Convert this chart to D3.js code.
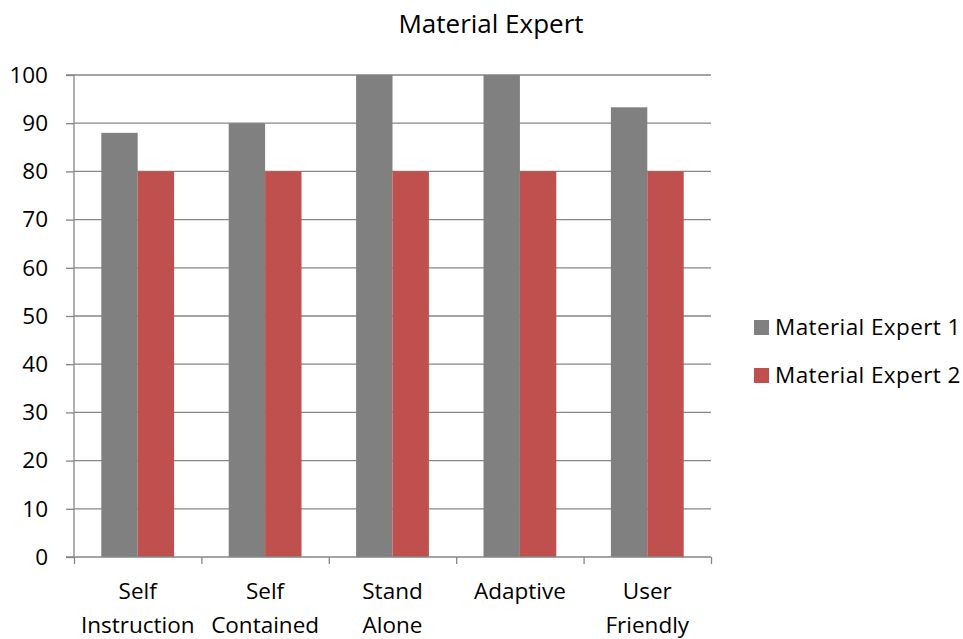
<!DOCTYPE html>
<html><head><meta charset="utf-8">
<script src="https://cdn.jsdelivr.net/npm/d3@7"></script>
<style>body{margin:0;background:#fff}svg{display:block}text{font-family:"Open Sans",sans-serif;fill:#000}</style>
</head><body>
<script>
const categories = [["Self","Instruction"],["Self","Contained"],["Stand","Alone"],["Adaptive"],["User","Friendly"]];
const seriesNames = ["Material Expert 1","Material Expert 2"];
const expert1 = [88, 90, 100, 100, 93.3];
const expert2 = [80, 80, 80, 80, 80];
const yTicks = [0,10,20,30,40,50,60,70,80,90,100];
const colors = ["#808080","#C0504D"];

const W=963,H=639;
const FS=22.5;
const svg=d3.select("body").append("svg").attr("width",W).attr("height",H);
const pL=74,pR=711,pT=75,pB=557;
const x=d3.scaleBand().domain(d3.range(categories.length)).range([pL,pR]);
const bw=x.bandwidth()/3.5;
const y=d3.scaleLinear().domain([0,100]).range([pB,pT]);
const gridColor="#868686";

svg.append("g").selectAll("line").data(yTicks.filter(d=>d>0)).join("line")
  .attr("x1",pL).attr("x2",pR).attr("y1",d=>y(d)).attr("y2",d=>y(d))
  .attr("stroke",gridColor).attr("stroke-width",1.3);

const series=[expert1,expert2];
series.forEach((s,si)=>{
  svg.append("g").selectAll("rect").data(s).join("rect")
    .attr("x",(d,i)=>x(i)+x.bandwidth()/2-bw+si*bw)
    .attr("width",bw)
    .attr("y",d=>y(d)).attr("height",d=>y(0)-y(d))
    .attr("fill",colors[si]);
});

const ya=d3.axisLeft(y).tickValues(yTicks).tickSize(8).tickPadding(18);
const gy=svg.append("g").attr("transform",`translate(${pL},0)`).call(ya);
gy.select(".domain").attr("stroke",gridColor).attr("stroke-width",1.3).attr("d",`M-8,${pT}H0V${pB}H-8`);
gy.selectAll(".tick line").attr("stroke",gridColor).attr("stroke-width",1.3);
gy.selectAll(".tick text").attr("font-size",FS).attr("font-family",null).attr("fill","#000");

const xb=d3.scaleLinear().domain([0,categories.length]).range([pL,pR]);
const xa=d3.axisBottom(xb).ticks(categories.length).tickSize(7).tickFormat("");
const gx=svg.append("g").attr("transform",`translate(0,${pB})`).call(xa);
gx.select(".domain").attr("stroke",gridColor).attr("stroke-width",1.3).attr("d",`M${pL},0H${pR}`);
gx.selectAll(".tick line").attr("stroke",gridColor).attr("stroke-width",1.3);

svg.append("g").selectAll("text").data(categories).join("text")
  .attr("x",(d,i)=>x(i)+x.bandwidth()/2).attr("y",599)
  .attr("text-anchor","middle").attr("font-size",FS)
  .each(function(d){
    d3.select(this).selectAll("tspan").data(d).join("tspan")
      .attr("x",d3.select(this).attr("x")).attr("dy",(t,j)=>j?34:0).text(t=>t);
  });

svg.append("text").attr("x",491).attr("y",33).attr("text-anchor","middle").attr("font-size",26).text("Material Expert");

const lg=svg.append("g");
seriesNames.forEach((n,i)=>{
  lg.append("rect").attr("x",754).attr("y",320+i*48).attr("width",15).attr("height",15).attr("fill",colors[i]);
  lg.append("text").attr("x",775).attr("y",335+i*48).attr("font-size",FS).attr("letter-spacing",0.4).text(n);
});
</script>
</body></html>
